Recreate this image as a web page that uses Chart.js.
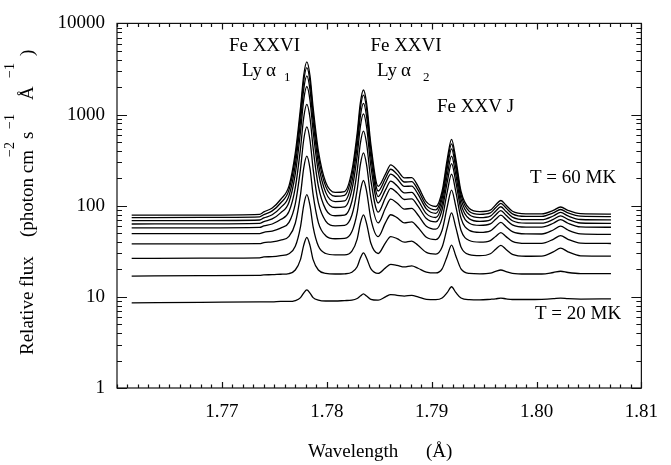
<!DOCTYPE html>
<html>
<head>
<meta charset="utf-8">
<script src="https://cdn.jsdelivr.net/npm/chart.js@4.4.1/dist/chart.umd.min.js"></script>
<style>
html,body{margin:0;padding:0;background:#fff;}
</style>
</head>
<body>
<canvas id="c" width="671" height="465"></canvas>
<script>
// wavelength grid (Angstrom)
var wavelength = [1.7614, 1.7680, 1.7736, 1.7740, 1.7748, 1.7756, 1.7764, 1.7770, 1.7775, 1.7778,
  1.7781, 1.7784, 1.7787, 1.7792, 1.7799, 1.7808, 1.7817, 1.7824, 1.7829, 1.7832,
  1.7835, 1.7838, 1.7842, 1.7849, 1.7856, 1.7861, 1.7867, 1.7874, 1.7881, 1.7887,
  1.7895, 1.7904, 1.7910, 1.7915, 1.7919, 1.7923, 1.7928, 1.7936, 1.7946, 1.7956,
  1.7961, 1.7966, 1.7971, 1.7977, 1.7990, 1.8005, 1.8016, 1.8023, 1.8030, 1.8042, 1.8071];

// relative flux, bottom curve (T = 20 MK) to top curve (T = 60 MK)
var curve1 = [8.6, 8.7, 8.8, 8.8, 8.8, 8.9, 8.9, 9.1, 9.8, 11.0, 11.9, 11.0, 9.8, 9.2, 9.0, 9.0, 9.1, 9.2, 9.6, 10.2,
  10.8, 10.2, 9.4, 9.2, 10.0, 10.6, 10.4, 10.2, 10.4, 10.0, 9.4, 9.3, 9.7, 11.2, 12.9, 11.2, 9.7, 9.3, 9.25, 9.4,
  9.5, 9.7, 9.5, 9.35, 9.35, 9.4, 9.55, 9.7, 9.55, 9.45, 9.5];
var curve2 = [16.9, 17.1, 17.2, 17.4, 17.5, 17.7, 18.0, 19.7, 25.8, 36.7, 45.0, 36.7, 25.6, 19.7, 18.1, 17.8, 17.9, 18.6, 21.4, 26.5,
  30.4, 26.5, 20.4, 18.1, 20.8, 22.7, 22.2, 21.3, 21.9, 20.6, 18.7, 18.3, 20.3, 28.3, 37.0, 28.3, 20.3, 18.1, 17.9, 18.2,
  19.0, 19.7, 18.9, 18.1, 17.8, 17.8, 18.5, 19.1, 18.5, 18.0, 18.0];
var curve3 = [26.4, 26.6, 26.8, 27.4, 27.6, 28.3, 29.7, 35.8, 59.0, 100.5, 132, 100.6, 58.6, 36.1, 29.9, 28.9, 28.9, 31.8, 43.0, 63.8,
  79.4, 63.7, 38.9, 29.9, 39.2, 45.9, 43.6, 39.8, 40.9, 36.8, 30.7, 29.5, 35.2, 58.3, 83.5, 58.3, 35.3, 29.1, 28.3, 29.7,
  33.2, 36.7, 33.1, 29.3, 27.9, 28.0, 31.1, 34.3, 31.2, 28.2, 28.0];
var curve4 = [38.1, 38.2, 38.3, 39.4, 40.1, 42.0, 46.1, 64.2, 133, 257, 350, 257, 132, 65.3, 46.9, 43.4, 43.7, 52.0, 83.9, 144,
  189, 144, 72.0, 45.7, 65.2, 79.6, 73.9, 64.9, 66.6, 57.6, 45.1, 42.5, 53.8, 98.9, 148, 98.9, 53.8, 41.5, 39.8, 41.4,
  45.9, 50.6, 45.8, 40.7, 38.6, 38.7, 42.8, 47.0, 42.8, 38.9, 38.5];
var curve5 = [49.5, 49.4, 49.4, 51.1, 52.7, 56.8, 65.7, 105, 255, 526, 731, 526, 254, 108, 67.8, 60.2, 60.8, 79.0, 149, 281,
  380, 281, 123, 64.7, 94.4, 118, 107, 91.8, 93.3, 79.1, 59.5, 55.2, 73.0, 144, 222, 144, 73.0, 53.6, 50.9, 52.9,
  59.1, 65.5, 58.9, 51.9, 49.0, 48.9, 54.1, 59.6, 54.1, 49.2, 48.5];
var curve6 = [57.0, 57.1, 57.7, 60.0, 63.0, 70.4, 86.4, 158, 429, 921, 1291, 922, 429, 164, 91.2, 77.6, 78.6, 112, 240, 480,
  659, 479, 192, 85.2, 123, 155, 139, 117, 119, 98.9, 72.2, 66.3, 90.2, 185, 290, 185, 90.2, 64.2, 60.8, 63.1,
  70.8, 78.8, 70.4, 61.7, 58.2, 58.3, 64.2, 70.4, 64.2, 58.5, 58.0];
var curve7 = [63.0, 63.1, 63.9, 67.0, 71.7, 83.5, 109, 223, 656, 1440, 2032, 1442, 655, 234, 117, 95.5, 97.0, 150, 352, 732,
  1017, 731, 276, 107, 149, 186, 166, 138, 140, 115, 81.9, 74.2, 104, 221, 349, 221, 104, 71.7, 67.4, 70.0,
  79.1, 88.4, 78.6, 68.4, 64.3, 64.3, 70.7, 77.4, 70.7, 64.6, 64.0];
var curve8 = [68.5, 68.7, 69.7, 73.4, 79.6, 95.1, 129, 279, 846, 1876, 2652, 1878, 846, 292, 140, 111, 113, 183, 449, 949,
  1323, 948, 348, 126, 177, 222, 198, 163, 164, 134, 92.3, 82.5, 119, 262, 420, 262, 119, 79.4, 74.0, 76.9,
  87.0, 97.4, 86.4, 75.0, 70.2, 70.2, 77.1, 84.3, 77.2, 70.6, 70.0];
var curve9 = [74.0, 74.3, 75.5, 79.9, 87.7, 107, 149, 334, 1037, 2311, 3272, 2314, 1036, 351, 163, 127, 130, 216, 546, 1166,
  1630, 1164, 421, 145, 200, 251, 222, 182, 184, 149, 101, 90.1, 131, 296, 476, 296, 132, 86.6, 80.5, 83.5,
  94.7, 106, 94.2, 81.4, 76.2, 76.2, 83.3, 90.8, 83.3, 76.7, 76.0];
var curve10 = [78.7, 79.0, 80.4, 85.5, 94.5, 117, 165, 380, 1194, 2670, 3780, 2673, 1193, 399, 181, 140, 143, 242, 621, 1333,
  1860, 1331, 477, 163, 222, 280, 247, 202, 203, 164, 110, 98, 144, 329, 533, 329, 144, 93, 86, 89.3,
  102, 114, 101, 86.9, 81.3, 81.2, 88.7, 96.8, 88.8, 81.7, 81.0];

var xMajor = [1.77, 1.78, 1.79, 1.80, 1.81];
var xTickLabels = ["1.77", "1.78", "1.79", "1.80", "1.81"];
var yMajor = [1, 10, 100, 1000, 10000];
var yTickLabels = ["1", "10", "100", "1000", "10000"];

var serif = '"Liberation Serif", "Times New Roman", serif';

function pts(arr) {
  var out = [];
  for (var i = 0; i < wavelength.length; i++) out.push({x: wavelength[i], y: arr[i]});
  return out;
}

var curves = [curve1, curve2, curve3, curve4, curve5, curve6, curve7, curve8, curve9, curve10];
var datasets = [];
for (var i = 0; i < curves.length; i++) {
  datasets.push({
    data: pts(curves[i]),
    borderColor: "#000",
    borderWidth: 1.3,
    pointRadius: 0,
    fill: false,
    cubicInterpolationMode: "monotone"
  });
}

function isMajor(v, list) {
  for (var j = 0; j < list.length; j++) {
    if (Math.abs(v - list[j]) < list[j] * 1e-6) return j;
  }
  return -1;
}

// frame, inward ticks and the text labels
var decor = {
  id: "decor",
  afterDatasetsDraw: function(chart) {
    var ctx = chart.ctx, a = chart.chartArea;
    var xs = chart.scales.x, ys = chart.scales.y;
    ctx.save();
    ctx.strokeStyle = "#111";
    ctx.lineWidth = 1.2;
    ctx.strokeRect(a.left, a.top, a.right - a.left, a.bottom - a.top);
    ctx.beginPath();
    xs.ticks.forEach(function(t) {
      var px = Math.round(xs.getPixelForValue(t.value)) + 0.5;
      var len = isMajor(t.value, xMajor) >= 0 ? 6 : 3.5;
      ctx.moveTo(px, a.bottom); ctx.lineTo(px, a.bottom - len);
      ctx.moveTo(px, a.top); ctx.lineTo(px, a.top + len);
    });
    ys.ticks.forEach(function(t) {
      var py = Math.round(ys.getPixelForValue(t.value)) + 0.5;
      var len = isMajor(t.value, yMajor) >= 0 ? 10 : 5;
      ctx.moveTo(a.left, py); ctx.lineTo(a.left + len, py);
      ctx.moveTo(a.right, py); ctx.lineTo(a.right - len, py);
    });
    ctx.stroke();

    ctx.fillStyle = "#000";
    ctx.textBaseline = "alphabetic";
    function txt(s, x, y, size, align) {
      ctx.font = size + "px " + serif;
      ctx.textAlign = align || "left";
      ctx.fillText(s, x, y);
    }
    txt("Fe XXVI", 264.5, 51, 19, "center");
    txt("Ly", 242, 76, 19);
    txt("\u03b1", 266, 76, 19);
    txt("1", 284, 81, 13);
    txt("Fe XXVI", 406, 51, 19, "center");
    txt("Ly", 377, 76, 19);
    txt("\u03b1", 401, 76, 19);
    txt("2", 423, 81, 13);
    txt("Fe XXV J", 437, 112, 19);
    txt("T = 60 MK", 530, 183, 19);
    txt("T = 20 MK", 535, 319, 19);

    // x axis title
    txt("Wavelength", 308, 457, 19);
    txt("(\u00c5)", 426, 457, 19);

    // y axis title, rotated
    ctx.translate(33, 355);
    ctx.rotate(-Math.PI / 2);
    txt("Relative flux", 0, 0, 19);
    txt("(photon cm", 118, 0, 19);
    txt("\u22122", 198, -19, 14);
    txt("s", 216, 0, 19);
    txt("\u22121", 226, -19, 14);
    txt("\u00c5", 255, 0, 19);
    txt("\u22121", 277, -19, 14);
    txt(")", 299, 0, 19);
    ctx.restore();
  }
};

new Chart(document.getElementById("c").getContext("2d"), {
  type: "line",
  data: {datasets: datasets},
  plugins: [decor],
  options: {
    responsive: false,
    devicePixelRatio: 1,
    animation: false,
    layout: {padding: {top: 12, right: 20, left: 0, bottom: 0}},
    plugins: {legend: {display: false}, tooltip: {enabled: false}},
    scales: {
      x: {
        type: "linear",
        min: 1.76,
        max: 1.81,
        afterBuildTicks: function(scale) {
          var t = [];
          for (var k = 0; k <= 50; k++) t.push({value: 1.76 + k * 0.001});
          scale.ticks = t;
        },
        afterFit: function(scale) { scale.height = 77; },
        grid: {display: false, drawTicks: false},
        border: {display: false},
        ticks: {
          autoSkip: false,
          maxRotation: 0,
          minRotation: 0,
          padding: 13,
          color: "#000",
          font: {family: serif, size: 19},
          callback: function(v) {
            var j = isMajor(v, xMajor);
            return j >= 0 ? xTickLabels[j] : "";
          }
        }
      },
      y: {
        type: "logarithmic",
        min: 1,
        max: 10000,
        afterBuildTicks: function(scale) {
          var t = [];
          for (var d = 1; d <= 1000; d *= 10) {
            for (var m = 1; m <= 9; m++) t.push({value: m * d});
          }
          t.push({value: 10000});
          scale.ticks = t;
        },
        afterFit: function(scale) { scale.width = 117; },
        grid: {display: false, drawTicks: false},
        border: {display: false},
        ticks: {
          autoSkip: false,
          padding: 12,
          color: "#000",
          font: {family: serif, size: 19},
          callback: function(v) {
            var j = isMajor(v, yMajor);
            return j >= 0 ? yTickLabels[j] : "";
          }
        }
      }
    }
  }
});
</script>
</body>
</html>
